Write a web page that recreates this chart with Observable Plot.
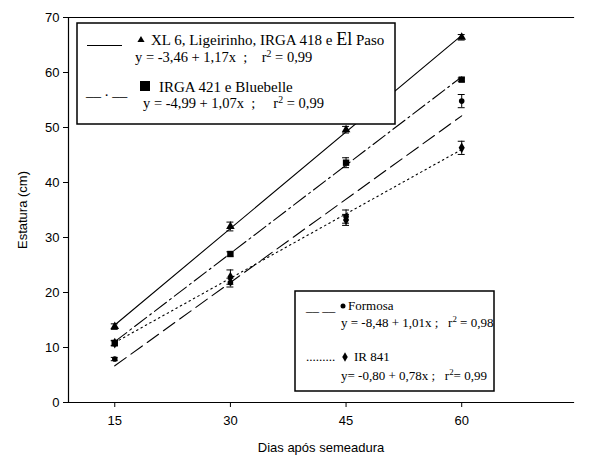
<!DOCTYPE html>
<html>
<head>
<meta charset="utf-8">
<script src="https://cdn.jsdelivr.net/npm/d3@7"></script>
<script src="https://cdn.jsdelivr.net/npm/@observablehq/plot@0.6"></script>
<style>
  body { margin: 0; background: white; }
</style>
</head>
<body>
<div id="chart"></div>
<script>
// Days after sowing
const days = [15, 30, 45, 60];
// Observed means (cm) and error bar half-widths
const xl6 = [13.8, 32.0, 49.6, 66.4];
const xl6Err = [0.5, 0.8, 0.6, 0.5];
const irga421 = [10.8, 27.0, 43.6, 58.7];
const irga421Err = [0.4, 0.4, 0.9, 0.3];
const formosa = [7.9, 21.8, 33.8, 54.8];
const formosaErr = [0.3, 0.8, 1.2, 1.2];
const ir841 = [10.8, 22.8, 33.2, 46.3];
const ir841Err = [0.5, 1.3, 1.0, 1.2];
// Regression coefficients as printed on the chart
const seriesNames = ["XL 6", "IRGA 421", "Formosa", "IR 841"];
const intercepts = [-3.46, -4.99, -8.48, -0.80];
const slopes = [1.17, 1.07, 1.01, 0.78];
const yTicks = [0, 10, 20, 30, 40, 50, 60, 70];

const symbols = ["triangle", "square", "circle", "diamond"];
const symbolR = [3.2, 3.6, 2.8, 3.2];
const dashes = [null, "15,4,2,4", "14,6", "1.5,3.5"];

const values = [xl6, irga421, formosa, ir841];
const errs = [xl6Err, irga421Err, formosaErr, ir841Err];

const points = [];
values.forEach((vals, s) => vals.forEach((v, i) => points.push({
  series: s, day: days[i], y: v, lo: v - errs[s][i], hi: v + errs[s][i]
})));

const fitLines = seriesNames.map((n, s) => [days[0], days[days.length - 1]].map(d => ({
  series: s, day: d, y: intercepts[s] + slopes[s] * d
})));

const capHalf = 0.45;

const marks = [
  Plot.frame({anchor: "left", stroke: "black", strokeWidth: 1.2}),
  Plot.frame({anchor: "bottom", stroke: "black", strokeWidth: 1.2}),
  Plot.frame({anchor: "top", stroke: "black", strokeWidth: 1.2}),
];
fitLines.forEach((ln, s) => {
  marks.push(Plot.line(ln, {x: "day", y: "y", stroke: "black", strokeWidth: 1.1,
    strokeDasharray: dashes[s] || undefined}));
});
symbols.forEach((sym, s) => {
  const pts = points.filter(p => p.series === s);
  marks.push(Plot.ruleX(pts, {x: "day", y1: "lo", y2: "hi", stroke: "black", strokeWidth: 1}));
  marks.push(Plot.ruleY(pts, {y: "lo", x1: d => d.day - capHalf, x2: d => d.day + capHalf, stroke: "black", strokeWidth: 1}));
  marks.push(Plot.ruleY(pts, {y: "hi", x1: d => d.day - capHalf, x2: d => d.day + capHalf, stroke: "black", strokeWidth: 1}));
  marks.push(Plot.dot(pts, {x: "day", y: "y", symbol: () => sym, r: symbolR[s], fill: "black", stroke: "none"}));
});

const chart = Plot.plot({
  width: 602,
  height: 461,
  marginLeft: 68,
  marginTop: 17,
  marginRight: 29,
  marginBottom: 59,
  style: {fontFamily: "'Liberation Sans', Arial, sans-serif", fontSize: "13px", color: "black", background: "white"},
  x: {domain: [9, 74.5], ticks: days, tickSize: 5, tickPadding: 8, label: "Dias após semeadura",
      labelAnchor: "center", labelOffset: 49, labelArrow: "none"},
  y: {domain: [0, 70], ticks: yTicks, tickSize: 5, tickPadding: 4, label: "Estatura (cm)",
      labelAnchor: "center", labelOffset: 51, labelArrow: "none"},
  marks
});
document.getElementById("chart").appendChild(chart);

// Legends (boxes with sample line styles, markers and equations)
const svg = d3.select(chart);
const g = svg.append("g").attr("font-family", "'Liberation Serif', 'Times New Roman', serif")
  .attr("font-size", 13).attr("fill", "black").attr("text-anchor", "start");

function eq(x, y, pre, post, size) {
  const t = g.append("text").attr("x", x).attr("y", y).attr("xml:space", "preserve")
    .attr("font-size", size);
  t.append("tspan").text(pre);
  t.append("tspan").attr("font-size", size * 0.68).attr("dy", -5).text("2");
  t.append("tspan").attr("dy", 5).text(post);
}

// upper box
g.append("rect").attr("x", 77).attr("y", 23).attr("width", 318).attr("height", 101)
  .attr("fill", "white").attr("stroke", "black").attr("stroke-width", 1.5);
g.append("line").attr("x1", 87).attr("x2", 122).attr("y1", 45.5).attr("y2", 45.5).attr("stroke", "black");
g.append("path").attr("d", d3.symbol(d3.symbolTriangle, 22)()).attr("transform", "translate(141,40)");
{
  const t = g.append("text").attr("x", 151).attr("y", 45).attr("xml:space", "preserve").attr("font-size", 15);
  t.append("tspan").text("XL 6, Ligeirinho, IRGA 418 e ");
  t.append("tspan").attr("font-size", 18).text("El");
  t.append("tspan").text(" Paso");
}
eq(135, 62, "y = -3,46 + 1,17x  ;    r", " = 0,99", 14.5);
g.append("text").attr("x", 86).attr("y", 96).attr("xml:space", "preserve").attr("font-size", 15).text("__ . __");
g.append("rect").attr("x", 140).attr("y", 81).attr("width", 10).attr("height", 10).attr("fill", "black");
g.append("text").attr("x", 159).attr("y", 92).attr("font-size", 15).text("IRGA 421 e Bluebelle");
eq(143, 108, "y = -4,99 + 1,07x  ;     r", " = 0,99", 14.5);

// lower box
g.append("rect").attr("x", 295).attr("y", 291).attr("width", 199).attr("height", 100)
  .attr("fill", "white").attr("stroke", "black").attr("stroke-width", 1.5);
g.append("text").attr("x", 306).attr("y", 311).attr("xml:space", "preserve").text("__ __");
g.append("circle").attr("cx", 343).attr("cy", 306).attr("r", 2.5);
g.append("text").attr("x", 348).attr("y", 310).text("Formosa");
eq(341, 327, "y = -8,48 + 1,01x ;   r", " = 0,98", 13);
g.append("text").attr("x", 306).attr("y", 361).text(".........");
g.append("path").attr("d", d3.symbol(d3.symbolDiamond, 26)()).attr("transform", "translate(345,357)");
g.append("text").attr("x", 354).attr("y", 361).text("IR 841");
eq(341, 380, "y= -0,80 + 0,78x ;   r", "= 0,99", 13);
</script>
</body>
</html>
